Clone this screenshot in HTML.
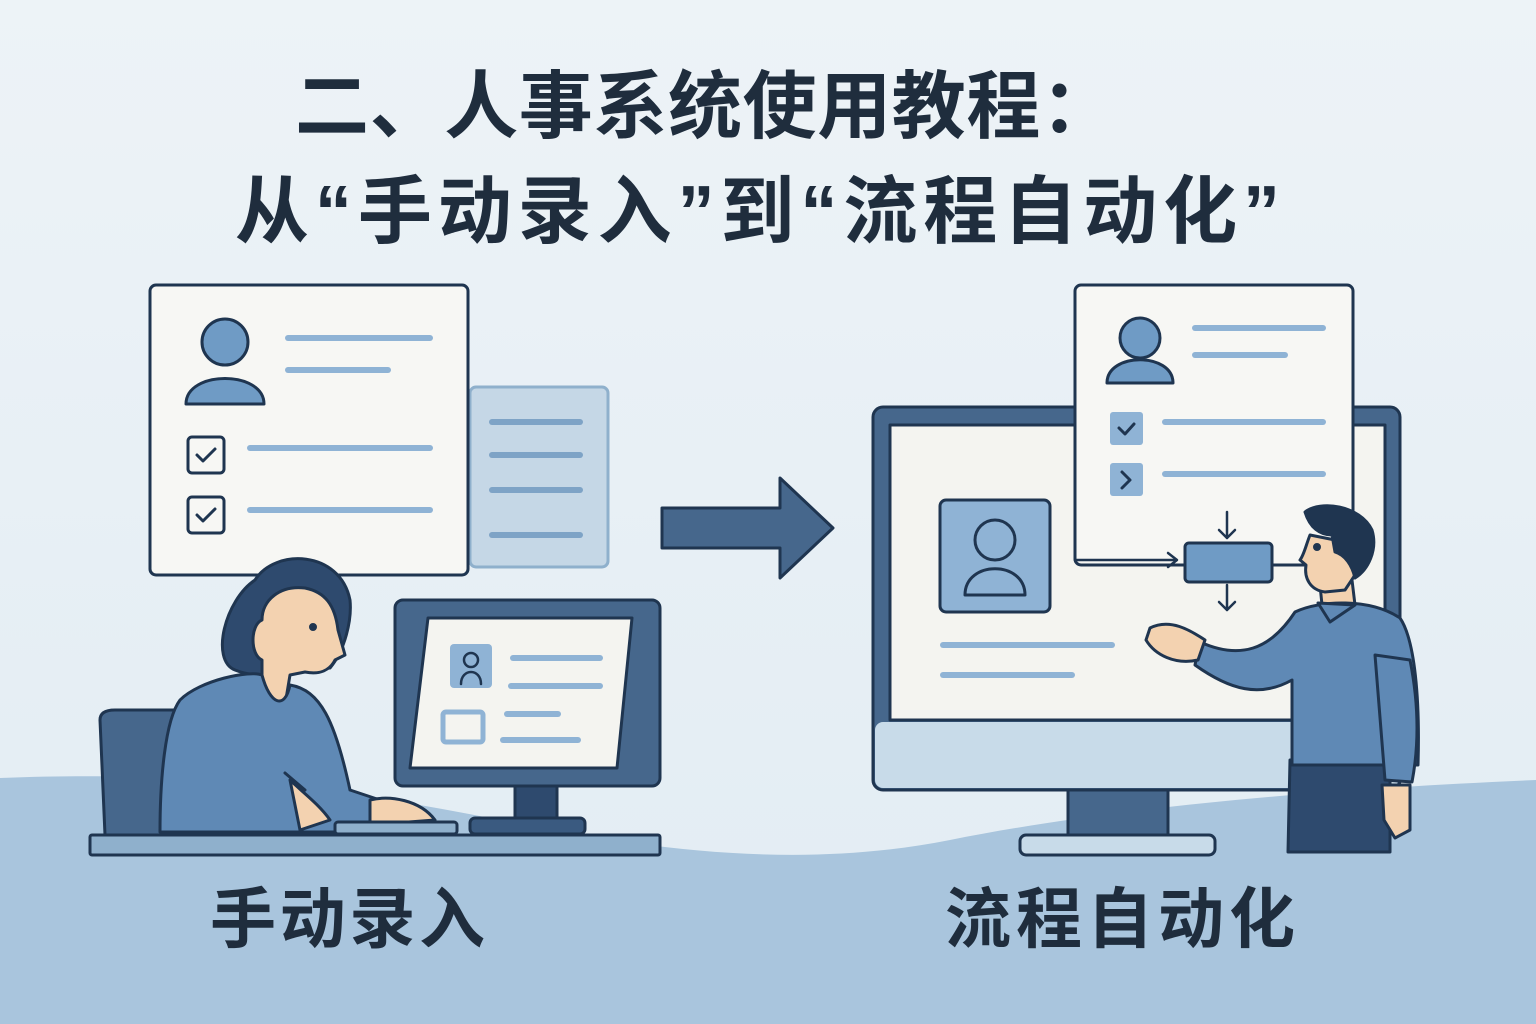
<!DOCTYPE html>
<html><head><meta charset="utf-8"><style>
html,body{margin:0;padding:0;width:1536px;height:1024px;overflow:hidden;background:#e8f0f5}
svg{display:block}
text{font-family:"Liberation Sans","Noto Sans CJK SC",sans-serif;font-weight:bold;fill:#1f2d3d}
</style></head><body>
<svg width="1536" height="1024" viewBox="0 0 1536 1024">
<defs><linearGradient id="bg" x1="0" y1="0" x2="0" y2="1"><stop offset="0" stop-color="#edf3f7"/><stop offset="1" stop-color="#e2ecf3"/></linearGradient></defs>
<rect width="1536" height="1024" fill="url(#bg)"/>
<path d="M0,778 C200,770 350,790 500,820 C650,850 800,870 950,840 C1100,810 1300,790 1536,780 L1536,1024 L0,1024Z" fill="#a9c5dd"/>
<text x="295" y="132" font-size="74" textLength="820" lengthAdjust="spacing">二、人事系统使用教程：</text>
<text x="235" y="237" font-size="74" textLength="1045" lengthAdjust="spacing">从“手动录入”到“流程自动化”</text>

<g stroke="#1f3550" stroke-width="3" stroke-linecap="round" stroke-linejoin="round">
<rect x="470" y="387" width="138" height="180" rx="6" fill="#c5d7e6" stroke="#8fb0cc"/>
<g stroke="#7ea3c6" stroke-width="6"><line x1="492" y1="422" x2="580" y2="422"/><line x1="492" y1="455" x2="580" y2="455"/><line x1="492" y1="490" x2="580" y2="490"/><line x1="492" y1="535" x2="580" y2="535"/></g>
<rect x="150" y="285" width="318" height="290" rx="6" fill="#f7f7f4"/>
<circle cx="225" cy="342" r="23" fill="#6f9bc5"/>
<path d="M186,404 C186,370 264,370 264,404 Z" fill="#6f9bc5"/>
<g stroke="#8fb3d5" stroke-width="6"><line x1="288" y1="338" x2="430" y2="338"/><line x1="288" y1="370" x2="388" y2="370"/><line x1="250" y1="448" x2="430" y2="448"/><line x1="250" y1="510" x2="430" y2="510"/></g>
<rect x="188" y="437" width="36" height="36" rx="4" fill="#f7f7f4"/><path d="M197,455 l6,6 l12,-12" fill="none"/>
<rect x="188" y="497" width="36" height="36" rx="4" fill="#f7f7f4"/><path d="M197,515 l6,6 l12,-12" fill="none"/>
<path d="M662,508 L780,508 L780,478 L833,528 L780,578 L780,548 L662,548 Z" fill="#46678c"/>
<path d="M100,720 Q100,710 115,710 L175,710 L175,835 L105,835 Z" fill="#46678c"/>
<!-- woman -->
<path d="M255,580 C275,548 340,550 350,600 C352,620 345,650 330,668 L300,670 C280,672 260,680 235,670 C210,660 225,600 255,580Z" fill="#2e4a6e"/>
<path d="M262,620 C262,600 280,585 305,588 C325,592 335,605 338,630 L345,655 L335,660 C330,670 320,675 305,672 L290,675 L285,705 L262,705 L262,660 C250,655 250,625 262,620Z" fill="#f3d2b0"/>
<circle cx="313" cy="627" r="2.5" fill="#1f3550"/>
<path d="M180,700 C200,680 250,670 262,675 C270,705 285,710 290,685 C320,690 335,720 350,790 L380,800 L380,832 L160,832 C160,780 165,720 180,700Z" fill="#5f89b5"/>
<path d="M290,780 C300,790 320,805 330,820 L300,830 Z" fill="#f3d2b0"/>
<path d="M370,800 C390,795 420,800 435,820 L370,825 Z" fill="#f3d2b0"/>
<line x1="285" y1="773" x2="305" y2="790"/>
<rect x="335" y="822" width="122" height="12" rx="3" fill="#8fb0cc"/>
<rect x="395" y="600" width="265" height="186" rx="8" fill="#46678c"/>
<path d="M428,618 L632,618 L617,768 L410,768 Z" fill="#f4f4f0"/>
<rect x="450" y="644" width="42" height="44" rx="4" fill="#8fb3d5" stroke="none"/>
<circle cx="471" cy="660" r="7" fill="none" stroke-width="2.5"/><path d="M461,684 C461,668 481,668 481,684" fill="none" stroke-width="2.5"/>
<g stroke="#8fb3d5" stroke-width="6"><line x1="513" y1="658" x2="600" y2="658"/><line x1="511" y1="686" x2="600" y2="686"/><line x1="507" y1="714" x2="558" y2="714"/><line x1="503" y1="740" x2="578" y2="740"/></g>
<rect x="443" y="712" width="40" height="30" rx="3" fill="#f4f4f0" stroke="#8fb3d5" stroke-width="5"/>
<rect x="515" y="786" width="42" height="32" fill="#2e4a6e"/>
<rect x="470" y="818" width="115" height="16" rx="5" fill="#3a5a80"/>
<rect x="90" y="835" width="570" height="20" rx="2" fill="#8fb0cc"/>

<rect x="873" y="407" width="527" height="383" rx="10" fill="#46678c"/>
<rect x="890" y="425" width="495" height="295" fill="#f4f4f0"/>
<rect x="875" y="722" width="523" height="66" rx="8" fill="#c8dbe9" stroke="none"/>
<rect x="1068" y="790" width="100" height="45" fill="#46678c"/>
<rect x="1020" y="835" width="195" height="20" rx="6" fill="#c8dbe9"/>
<rect x="940" y="500" width="110" height="112" rx="6" fill="#8fb3d5"/>
<circle cx="995" cy="540" r="20" fill="none"/><path d="M965,595 C965,560 1025,560 1025,595 Z" fill="none"/>
<g stroke="#8fb3d5" stroke-width="6"><line x1="943" y1="645" x2="1112" y2="645"/><line x1="943" y1="675" x2="1072" y2="675"/></g>
<rect x="1075" y="285" width="278" height="280" rx="6" fill="#f7f7f4"/>
<circle cx="1140" cy="338" r="20" fill="#6f9bc5"/>
<path d="M1107,383 C1107,352 1173,352 1173,383 Z" fill="#6f9bc5"/>
<g stroke="#8fb3d5" stroke-width="6"><line x1="1195" y1="328" x2="1323" y2="328"/><line x1="1195" y1="355" x2="1285" y2="355"/><line x1="1165" y1="422" x2="1323" y2="422"/><line x1="1165" y1="474" x2="1323" y2="474"/></g>
<rect x="1110" y="412" width="33" height="33" rx="3" fill="#8fb3d5" stroke="none"/><path d="M1119,428 l6,6 l9,-10" fill="none"/>
<rect x="1110" y="463" width="33" height="33" rx="3" fill="#8fb3d5" stroke="none"/><path d="M1122,472 l8,8 l-8,8" fill="none"/>
<path d="M1075,480 L1075,560 L1176,560" fill="none" stroke-width="2.5"/><path d="M1168,553 l9,7 l-9,7" fill="none" stroke-width="2.5"/>
<rect x="1185" y="543" width="87" height="39" rx="4" fill="#6f9bc5"/>
<path d="M1227,512 L1227,538 M1219,530 l8,8 l8,-8 M1227,585 L1227,610 M1219,602 l8,8 l8,-8" fill="none" stroke-width="2.5"/>
<!-- man -->
<path d="M1290,760 L1390,760 L1390,852 L1288,852 Z" fill="#2e4a6e"/>
<path d="M1320,585 L1322,605 L1355,605 L1352,580 Z" fill="#f3d2b0"/>
<path d="M1310,535 C1306,545 1304,555 1300,560 L1306,565 C1304,578 1310,590 1325,592 L1345,590 L1355,575 L1360,545 Z" fill="#f3d2b0"/>
<circle cx="1317" cy="547" r="2.5" fill="#1f3550"/>
<path d="M1305,512 C1320,500 1360,505 1372,530 C1378,550 1368,570 1355,578 C1352,565 1345,555 1335,552 L1332,535 C1320,535 1310,528 1305,512Z" fill="#1f3550"/>
<path d="M1295,612 C1320,600 1370,598 1400,618 C1415,640 1420,700 1418,765 L1292,765 L1292,680 C1260,698 1230,690 1195,665 L1200,642 C1240,660 1270,650 1295,612Z" fill="#5f89b5"/>
<path d="M1318,603 L1330,622 L1355,605 Z" fill="#5f89b5"/>
<path d="M1150,628 C1170,618 1190,630 1205,640 L1198,660 C1175,665 1155,655 1146,640Z" fill="#f3d2b0"/>
<path d="M1375,655 L1385,780 L1412,782 C1420,740 1418,700 1410,660 Z" fill="#5f89b5"/>
<path d="M1382,785 L1410,785 L1410,830 L1395,838 L1384,820 Z" fill="#f3d2b0"/>
</g>
<text x="210" y="942" font-size="66" textLength="275" lengthAdjust="spacing">手动录入</text>
<text x="945" y="942" font-size="66" textLength="350" lengthAdjust="spacing">流程自动化</text>
</svg>
</body></html>
